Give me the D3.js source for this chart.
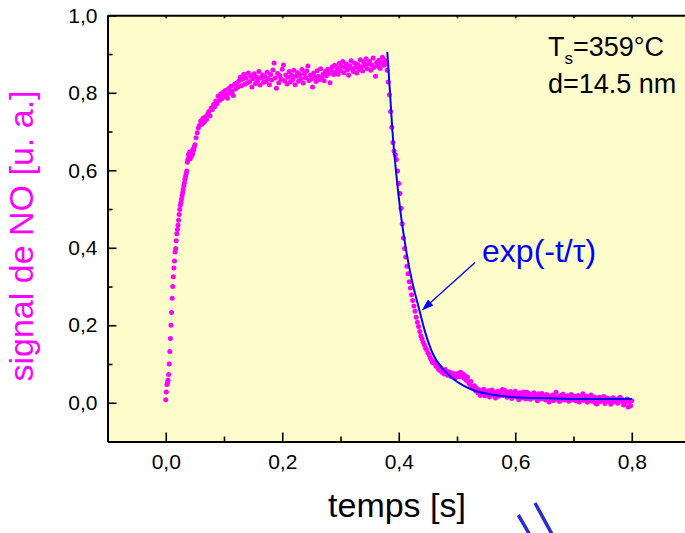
<!DOCTYPE html>
<html>
<head>
<meta charset="utf-8">
<script src="https://cdn.jsdelivr.net/npm/d3@7"></script>
<style>
  html, body { margin: 0; padding: 0; background: #fff; overflow: hidden; }
  svg { display: block; font-family: "Liberation Sans", Arial, Helvetica, sans-serif; }
</style>
</head>
<body>
<svg id="chart" width="685" height="533"></svg>
<script>
// NO signal after switching the gas on at t = 0: fast onset, sampled every 1 ms
const onsetStart = 0;
const onsetStep = 0.001;
const onsetValues = [
  0.008,0.028,0.047,0.052,0.058,0.073,0.100,0.132,0.166,0.200,0.233,0.270,0.300,0.325,0.348,0.366,0.389,
  0.398,0.418,0.436,0.447,0.458,0.471,0.486,0.499,0.510,0.517,0.526,0.534,0.542,0.551,0.560,0.568,0.577,0.584,0.592,0.598,
  0.621,0.628,0.641,0.633,0.647,0.630,0.644,0.636,0.649,0.642,0.655,0.652,0.661
];

// approach to saturation, sampled every 2 ms
const plateauStart = 0.05;
const plateauStep = 0.002;
const plateauValues = [
  0.666,0.684,0.697,0.709,0.716,0.727,0.719,0.734,0.724,0.738,0.731,0.745,0.752,0.741,0.761,0.757,0.770,0.764,0.779,0.772,
  0.791,0.780,0.796,0.784,0.801,0.789,0.806,0.795,0.786,0.811,0.799,0.817,0.804,0.793,0.822,0.810,0.826,0.815,0.831,0.840,
  0.818,0.835,0.848,0.822,0.839,0.826,0.851,0.829,0.843,0.815,0.836,0.849,0.824,0.841,0.832,0.855,0.820,0.838,0.846,0.827,
  0.842,0.829,0.853,0.836,0.821,0.847,0.833,0.859,0.877,0.838,0.812,0.850,0.826,0.844,0.835,0.861,0.872,0.831,0.846,0.823,
  0.840,0.855,0.828,0.846,0.834,0.858,0.821,0.843,0.852,0.830,0.847,0.837,0.860,0.825,0.849,0.839,0.856,0.869,0.832,0.845,
  0.836,0.815,0.851,0.840,0.829,0.857,0.843,0.834,0.862,0.838,0.848,0.831,0.855,0.844,0.861,0.850,0.826,0.858,0.867,0.847,
  0.871,0.853,0.864,0.848,0.876,0.857,0.868,0.881,0.852,0.866,0.874,0.859,0.845,0.870,0.883,0.862,0.855,0.877,0.866,0.851,
  0.873,0.860,0.885,0.867,0.856,0.879,0.870,0.888,0.862,0.875,0.881,0.858,0.872,0.890,0.866,0.843,0.878,0.869,0.884,0.863,
  0.877,0.892,0.871,0.884,0.874
];

// desorption after switching the gas off at t = 0.38 s, sampled every 2 ms
const decayStart = 0.38;
const decayStep = 0.002;
const decayValues = [
  0.858,0.828,0.795,0.752,0.711,0.672,0.650,0.640,0.628,0.598,0.566,0.540,0.502,0.462,0.425,0.398,0.376,0.352,0.333,0.312,
  0.296,0.279,0.264,0.250,0.236,0.221,0.208,0.197,0.184,0.172,0.165,0.156,0.150,0.141,0.137,0.129,0.124,0.116,0.111,0.104,
  0.106,0.101,0.094,0.098,0.088,0.084,0.091,0.079,0.082,0.074,0.086,0.077,0.071,0.080,0.073,0.068,0.077,0.070,0.074,0.065,
  0.072,0.076,0.067,0.079,0.071,0.075,0.063,0.070,0.058,0.066,0.052,0.047,0.055,0.041,0.036,0.044,0.031,0.037,0.026,0.033,0.019,
  0.029,0.024,0.035,0.018,0.027,0.021,0.031,0.015,0.026,0.033,0.020,0.028,0.012,0.024,0.030,0.017,0.026,0.021,0.034,0.019,
  0.032,0.023,0.014,0.027,0.019,0.029,0.011,0.024,0.018,0.030,0.015,0.022,0.008,0.026,0.019,0.013,0.028,0.021,0.010,0.027,
  0.017,0.023,0.009,0.020,0.014,0.026,0.012,0.019,0.005,0.023,0.016,0.010,0.024,0.013,0.018,0.007,0.021,0.015,0.002,0.017,
  0.011,0.020,0.006,0.014,0.027,0.009,0.016,0.003,0.019,0.012,0.022,0.007,0.015,0.010,0.018,0.004,0.013,0.021,0.008,0.010,
  0.016,0.005,0.012,0.019,0.002,0.014,0.009,0.023,0.006,0.011,0.017,0.001,0.013,0.008,0.020,0.004,0.010,0.015,-0.001,-0.003,
  0.009,0.014,0.003,0.011,0.006,0.016,-0.002,0.008,0.012,0.004,0.010,-0.004,0.007,0.013,0.002,0.009,0.005,-0.001,0.011,0.014,
  0.004,0.008,-0.006,0.006,0.001,0.010,-0.011,0.003,-0.008,0.005
];

// exponential fit exp(-t/tau) of the desorption transient
const fitTimes  = [0.3803,0.385,0.389,0.3948,0.402,0.4107,0.4222,0.4336,0.445,0.4593,0.476,0.4931,0.5103,0.5275,0.5515,0.5858,0.6373,0.694,0.8004];
const fitValues = [0.906,0.800,0.705,0.605,0.505,0.412,0.318,0.250,0.184,0.124,0.087,0.062,0.045,0.033,0.023,0.016,0.012,0.010,0.010];

const xMajorTicks = [0.0, 0.2, 0.4, 0.6, 0.8];
const xMinorTicks = [0.1, 0.3, 0.5, 0.7];
const xTopTicks   = [0.0, 0.1, 0.2, 0.3, 0.4, 0.5, 0.6, 0.7, 0.8];
const yMajorTicks = [0.0, 0.2, 0.4, 0.6, 0.8, 1.0];
const yMinorTicks = [0.1, 0.3, 0.5, 0.7, 0.9];

const svg = d3.select("#chart");
const x = d3.scaleLinear().domain([-0.1, 0.9]).range([107.5, 690]);
const y = d3.scaleLinear().domain([-0.1, 1.0]).range([441.5, 15.3]);
const [x0, x1] = x.range();
const [yb, yt] = y.range();

// comma as decimal separator
const fmt = d3.formatLocale({ decimal: ",", thousands: ".", grouping: [3], currency: ["", ""] }).format(".1f");

// plot background
svg.append("rect")
  .attr("x", x0).attr("y", yt)
  .attr("width", x1 - x0).attr("height", yb - yt)
  .attr("fill", "#fffccb");

// data points
const segment = (start, step, values) => values.map((v, i) => [start + i * step, v]);
const points = segment(onsetStart, onsetStep, onsetValues)
  .concat(segment(plateauStart, plateauStep, plateauValues))
  .concat(segment(decayStart, decayStep, decayValues));

svg.append("g").selectAll("circle")
  .data(points)
  .join("circle")
  .attr("cx", d => x(d[0]))
  .attr("cy", d => y(d[1]))
  .attr("r", 2.5)
  .attr("fill", "#ff00ff");

// fitted curve
const fitLine = d3.line()
  .x(d => x(d[0]))
  .y(d => y(d[1]))
  .curve(d3.curveMonotoneX);

svg.append("path")
  .datum(fitTimes.map((t, i) => [t, fitValues[i]]))
  .attr("d", fitLine)
  .attr("fill", "none")
  .attr("stroke", "#0000ff")
  .attr("stroke-width", 2);

// axes
function styleAxis(g) {
  g.select(".domain").attr("stroke", "#000").attr("stroke-width", 2);
  g.selectAll(".tick line").attr("stroke", "#000").attr("stroke-width", 1.6);
  g.selectAll(".tick text")
    .attr("fill", "#000")
    .style("font-size", "21px")
    .style("font-family", "\"Liberation Sans\", Arial, sans-serif");
}

svg.append("g")
  .attr("transform", `translate(0,${yb})`)
  .call(d3.axisBottom(x).tickValues(xMajorTicks).tickSize(-9).tickSizeOuter(0).tickPadding(13).tickFormat(fmt))
  .call(styleAxis);
svg.append("g")
  .attr("transform", `translate(0,${yb})`)
  .call(d3.axisBottom(x).tickValues(xMinorTicks).tickSize(-5).tickSizeOuter(0).tickFormat(""))
  .call(styleAxis);

svg.append("g")
  .attr("transform", `translate(0,${yt})`)
  .call(d3.axisTop(x).tickValues(xTopTicks).tickSize(-3).tickSizeOuter(0).tickFormat(""))
  .call(styleAxis);

svg.append("g")
  .attr("transform", `translate(${x0},0)`)
  .call(d3.axisLeft(y).tickValues(yMajorTicks).tickSize(-9).tickSizeOuter(0).tickPadding(10).tickFormat(fmt))
  .call(styleAxis);
svg.append("g")
  .attr("transform", `translate(${x0},0)`)
  .call(d3.axisLeft(y).tickValues(yMinorTicks).tickSize(-5).tickSizeOuter(0).tickFormat(""))
  .call(styleAxis);

// axis titles
svg.append("text")
  .attr("x", 397).attr("y", 517)
  .attr("text-anchor", "middle")
  .style("font-size", "34px")
  .attr("fill", "#000")
  .text("temps [s]");

svg.append("text")
  .attr("transform", "translate(33,236) rotate(-90)")
  .attr("text-anchor", "middle")
  .style("font-size", "34px")
  .attr("fill", "#ff00ff")
  .text("signal de NO [u. a.]");

// sample conditions
const cond = svg.append("text")
  .attr("x", 548).attr("y", 56)
  .style("font-size", "27px")
  .attr("fill", "#000");
cond.append("tspan").text("T");
cond.append("tspan").attr("dy", 8).style("font-size", "17px").text("s");
cond.append("tspan").attr("dy", -8).text("=359°C");

svg.append("text")
  .attr("x", 548).attr("y", 93)
  .style("font-size", "27px")
  .attr("fill", "#000")
  .text("d=14.5 nm");

// fit annotation with arrow
const arrowTail = [0.531, 0.362];
const arrowTip = [0.4395, 0.238];
const ax0 = x(arrowTail[0]), ay0 = y(arrowTail[1]);
const ax1 = x(arrowTip[0]), ay1 = y(arrowTip[1]);
const len = Math.hypot(ax1 - ax0, ay1 - ay0);
const ux = (ax1 - ax0) / len, uy = (ay1 - ay0) / len;
const headLen = 12, headHalf = 4;
const bx = ax1 - ux * headLen, by = ay1 - uy * headLen;

svg.append("line")
  .attr("x1", ax0).attr("y1", ay0)
  .attr("x2", bx + ux * 2).attr("y2", by + uy * 2)
  .attr("stroke", "#0000ff").attr("stroke-width", 1.3);
svg.append("path")
  .attr("d", `M${ax1},${ay1}L${bx - uy * headHalf},${by + ux * headHalf}L${bx + uy * headHalf},${by - ux * headHalf}Z`)
  .attr("fill", "#0000ff");

svg.append("text")
  .attr("x", ax0 + 7).attr("y", ay0)
  .style("font-size", "32px")
  .attr("fill", "#0000ff")
  .text("exp(-t/τ)");

// decorative strokes below the axis title
svg.append("g")
  .attr("stroke", "#2a2ad6")
  .attr("stroke-width", 3.5)
  .selectAll("line")
  .data([[518.3, 515, 530.5, 536], [535, 503, 553, 536]])
  .join("line")
  .attr("x1", d => d[0]).attr("y1", d => d[1])
  .attr("x2", d => d[2]).attr("y2", d => d[3]);
</script>
</body>
</html>
